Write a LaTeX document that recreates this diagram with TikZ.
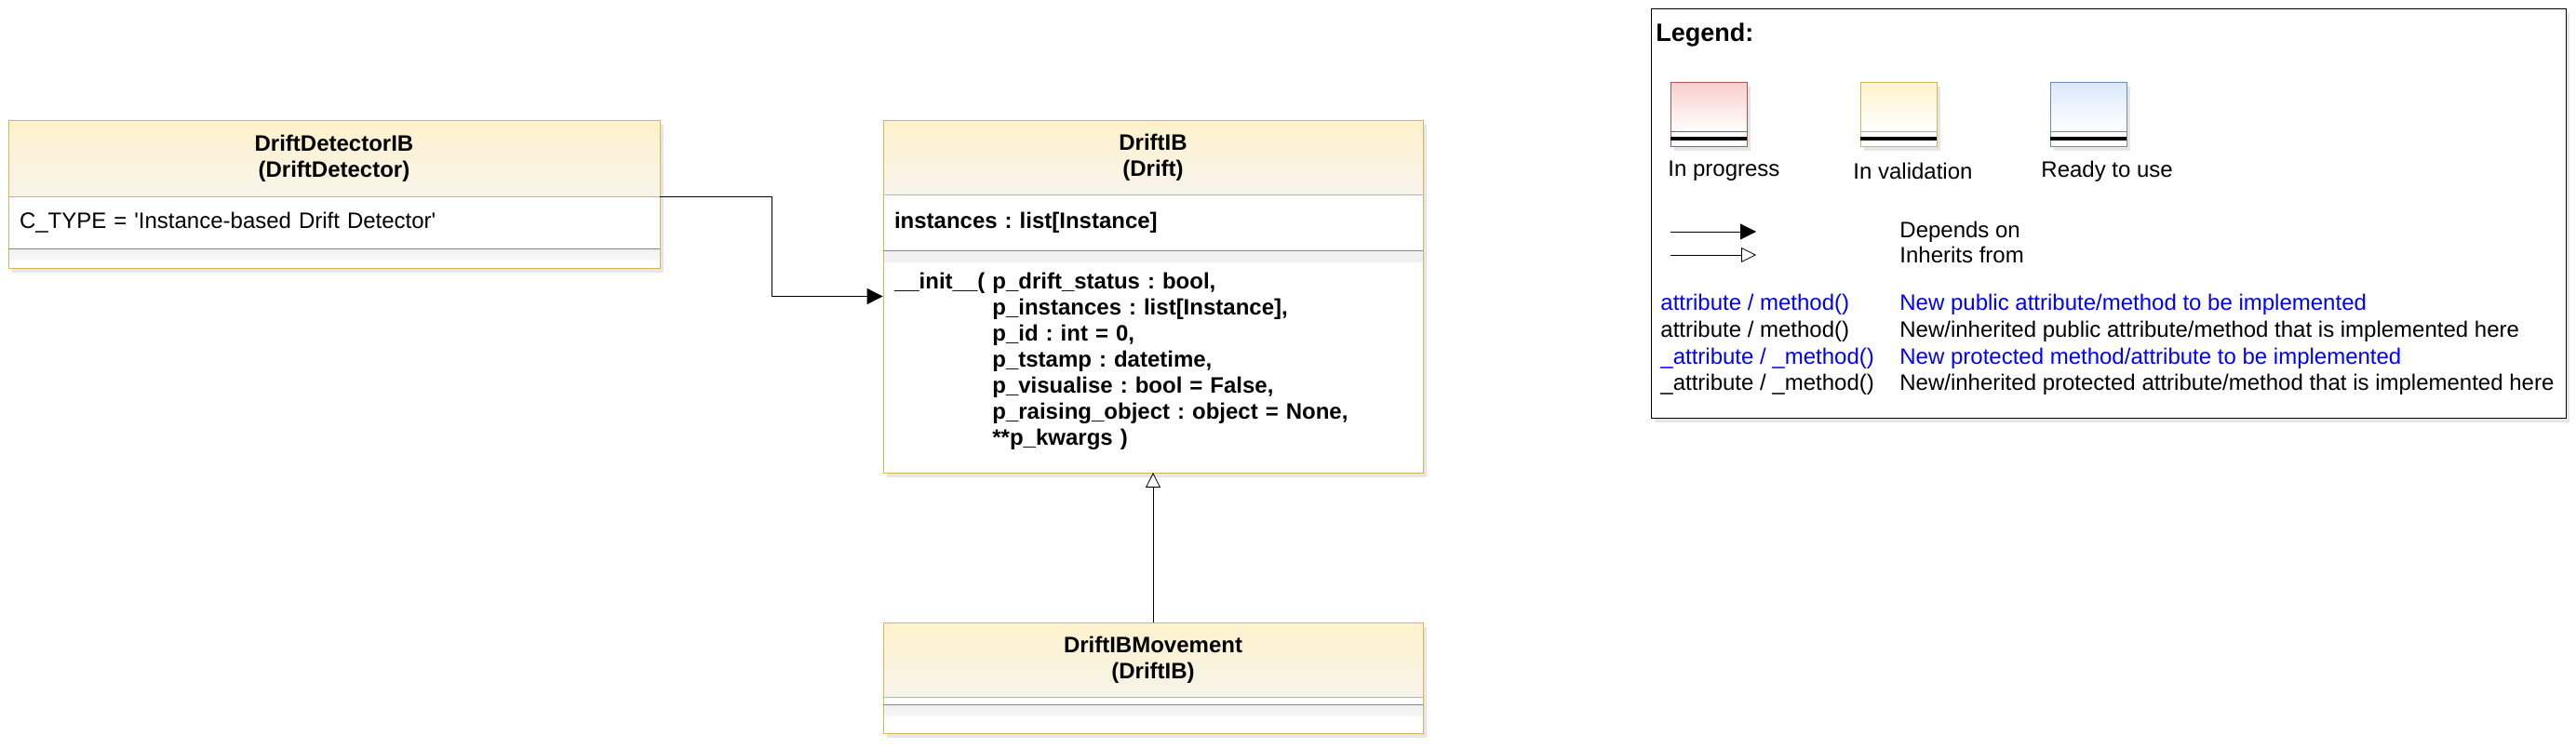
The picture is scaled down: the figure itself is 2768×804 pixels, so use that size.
\documentclass[tikz,border=0pt]{standalone}
\usepackage{fontspec}
\setmainfont{Liberation Sans}
\usepackage{tikz}
\usetikzlibrary{
  positioning,
  arrows.meta,
  shadows,
  fit
}
\definecolor{valfill}{HTML}{FFF2CC}
\definecolor{valline}{HTML}{D6B656}
\definecolor{progfill}{HTML}{F8CECC}
\definecolor{progline}{HTML}{B85450}
\definecolor{readyfill}{HTML}{DAE8FC}
\definecolor{readyline}{HTML}{6C8EBF}
\definecolor{headfade}{HTML}{F6F3EA}
\definecolor{todo}{HTML}{0000FF}
\tikzset{
  font=\fontsize{12pt}{14pt}\selectfont,
  line width=1.4pt,
  node distance=0pt,
  boxshadow/.style={drop shadow={opacity=.2, shadow xshift=2pt, shadow yshift=-2.5pt}},
  classhead/.style={draw=valline, top color=valfill, bottom color=headfade, boxshadow,
    align=center, font=\fontsize{12pt}{14pt}\selectfont\bfseries,
    inner sep=0pt, outer sep=0pt},
  compart/.style={draw=valline, fill=white, boxshadow, align=left,
    inner ysep=0pt, outer sep=0pt},
  methpart/.style={compart, path picture={
    \shade[top color=black!6, bottom color=white]
      (path picture bounding box.north west) rectangle
      ([yshift=-6pt]path picture bounding box.north east);}},
  swatch/.style={draw=#1line, top color=#1fill, bottom color=white, boxshadow,
    minimum width=41pt, minimum height=26.5pt, inner sep=0pt, outer sep=0pt},
  swatchfoot/.style={draw=#1line, fill=white, boxshadow,
    minimum width=41pt, minimum height=8pt, inner sep=0pt, outer sep=0pt},
  depends/.style={-{Triangle[length=8.5pt,width=8.5pt]}},
  inherits/.style={-{Triangle[open,length=8pt,width=8pt]}}
}

\begin{document}
\frenchspacing
\begin{tikzpicture}[x=0.5pt,y=-0.5pt]
  \useasboundingbox (0,0) rectangle (2768,804);

  % DriftDetectorIB
  \node[classhead, minimum width=350pt, minimum height=41pt, anchor=north west] (dethead) at (9,129) {DriftDetectorIB\\(DriftDetector)};
  \node[compart, below=of dethead, text width=338pt, inner xsep=6pt, minimum height=28pt] (detattr) {C\_TYPE = \textquotesingle Instance-based Drift Detector\textquotesingle};
  \node[methpart, below=of detattr, text width=338pt, inner xsep=6pt, minimum height=10.5pt] (detmeth) {};
  \draw[readyline] (detmeth.north west) -- (detmeth.north east);

  % DriftIB
  \node[classhead, minimum width=290pt, minimum height=40pt, anchor=north west] (ibhead) at (949,129) {DriftIB\\(Drift)};
  \node[compart, below=of ibhead, text width=278pt, inner xsep=6pt, minimum height=30pt, font=\fontsize{12pt}{14pt}\selectfont\bfseries] (ibattr) {instances : list[Instance]};
  \node[methpart, below=of ibattr, text width=278pt, inner xsep=6pt, minimum height=119.5pt, font=\fontsize{12pt}{14pt}\selectfont\bfseries] (ibmeth) {%
    \begin{tabular}{@{}l@{}l@{}}
      \_\_init\_\_(~ & p\_drift\_status : bool,\\
       & p\_instances : list[Instance],\\
       & p\_id : int = 0,\\
       & p\_tstamp : datetime,\\
       & p\_visualise : bool = False,\\
       & p\_raising\_object : object = None,\\
       & **p\_kwargs )
    \end{tabular}};
  \draw[readyline] (ibmeth.north west) -- (ibmeth.north east);
  \node[fit=(ibhead)(ibmeth), inner sep=0pt] (ib) {};

  % DriftIBMovement
  \node[classhead, minimum width=290pt, minimum height=40pt, anchor=north west] (mvhead) at (949,669) {DriftIBMovement\\(DriftIB)};
  \node[compart, below=of mvhead, text width=278pt, inner xsep=6pt, minimum height=4pt] (mvattr) {};
  \node[methpart, below=of mvattr, text width=278pt, inner xsep=6pt, minimum height=15.5pt] (mvmeth) {};
  \draw[readyline] (mvmeth.north west) -- (mvmeth.north east);

  \draw[depends] (dethead.south east) -- ++(60pt,0) |- (ib.west);
  \draw[inherits] (mvhead.north) -- (ibmeth.south);

  % legend
  \node[draw=black, fill=white, boxshadow, minimum width=491.5pt, minimum height=220pt, inner sep=0pt, anchor=north west] (legend) at (1774,9) {};
  \node[anchor=west, inner sep=0pt, font=\fontsize{13.5pt}{16pt}\selectfont\bfseries] (legtitle) at (1779,38) {Legend:};
  \foreach \kind/\sx/\tx/\txt in {prog/1795/1792/In progress, val/1999/1991/In validation, ready/2203/2193/Ready to use}{
    \node[swatch=\kind, anchor=north west] (\kind top) at (\sx,88) {};
    \node[swatchfoot=\kind, below=of \kind top] (\kind foot) {};
    \draw[black, line width=1.6pt] (\kind foot.west) -- (\kind foot.east);
    \node[anchor=west, inner sep=0pt] (\kind label) at (\tx,184) {\txt};
  }
  \coordinate (depa) at (1795,249);
  \coordinate (depb) at (1887,249);
  \coordinate (inha) at (1795,274);
  \coordinate (inhb) at (1887,274);
  \draw[depends] (depa) -- (depb);
  \draw[inherits] (inha) -- (inhb);
  \node[anchor=west, inner sep=0pt] (deplabel) at (2041,249) {Depends on};
  \node[anchor=west, inner sep=0pt] (inhlabel) at (2041,274) {Inherits from};
  \node[anchor=west, inner sep=0pt, font=\fontsize{12pt}{14.3pt}\selectfont] (legrows) at (1784,371) {%
    \begin{tabular}{@{}p{128.5pt}@{}l@{}}
      \textcolor{todo}{attribute / method()} & \textcolor{todo}{New public attribute/method to be implemented}\\
      attribute / method() & New/inherited public attribute/method that is implemented here\\
      \textcolor{todo}{\_attribute / \_method()} & \textcolor{todo}{New protected method/attribute to be implemented}\\
      \_attribute / \_method() & New/inherited protected attribute/method that is implemented here
    \end{tabular}};
\end{tikzpicture}
\end{document}
